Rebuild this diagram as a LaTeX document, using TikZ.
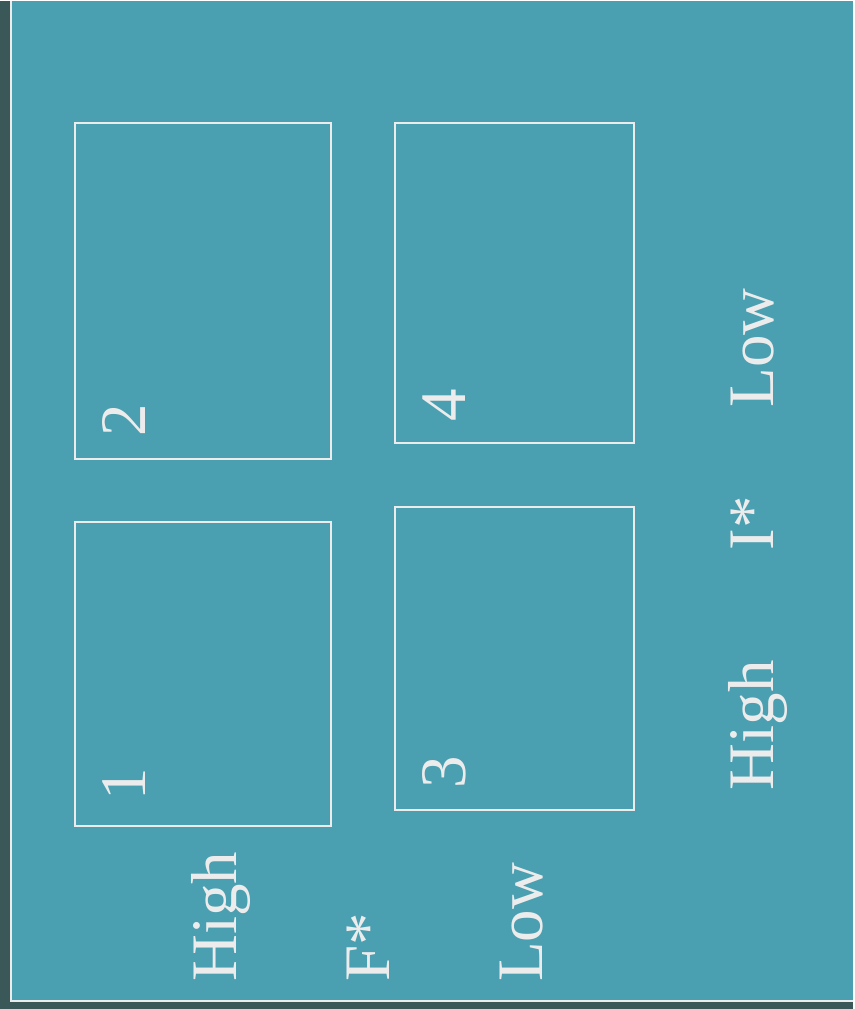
\documentclass[tikz,border=0pt]{standalone}
\usepackage{fontspec}
\setmainfont{Liberation Serif}
\usetikzlibrary{positioning,calc}
\definecolor{panel}{HTML}{4A9FB0}
\definecolor{slate}{HTML}{3A5858}
\definecolor{chalk}{HTML}{ECECEC}

\begin{document}
\begin{tikzpicture}[x=1pt, y=-1pt,
  quad/.style={draw=chalk, line width=2pt, inner sep=0pt},
  tag/.style={text=chalk, rotate=90, anchor=base west, inner sep=0pt, font=\fontsize{65}{65}\selectfont}]
% background and panel
\fill[slate] (0,0) rectangle (854,1009);
\fill[panel] (10,0) rectangle (854,1001);
\draw[chalk, line width=2pt] (11,0) -- (11,1001) -- (854,1001);
% the four cells
\node[quad, minimum width=256pt, minimum height=304pt] (q1) at (203,674) {};
\node[quad, minimum width=256pt, minimum height=336pt] (q2) at (203,290) {};
\node[quad, minimum width=240pt, minimum height=304pt] (q3) at (515,658) {};
\node[quad, minimum width=240pt, minimum height=320pt] (q4) at (515,282) {};
\node[tag] (n1) at ($(q1.south west)+(72,-27)$) {1};
\node[tag] (n2) at ($(q2.south west)+(72,-23)$) {2};
\node[tag] (n3) at ($(q3.south west)+(72,-23)$) {3};
\node[tag] (n4) at ($(q4.south west)+(72,-22)$) {4};
% axis labels
\node[tag] (hif) at (237,982) {High};
\node[tag] (fstar) at (390,982) {F*};
\node[tag] (lof) at (543,982) {Low};
\node[tag] (hii) at (774,790) {High};
\node[tag] (istar) at (774,550) {I*};
\node[tag] (loi) at (774,407) {Low};
\end{tikzpicture}
\end{document}
